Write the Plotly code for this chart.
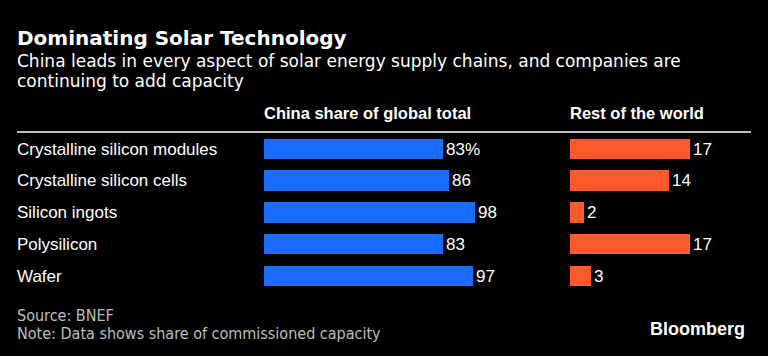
import plotly.graph_objects as go

categories = ["Crystalline silicon modules", "Crystalline silicon cells", "Silicon ingots", "Polysilicon", "Wafer"]
china_share = [83, 86, 98, 83, 97]
rest_share = [17, 14, 2, 17, 3]
china_labels = ["83%", "86", "98", "83", "97"]
rest_labels = ["17", "14", "2", "17", "3"]

W, H = 768, 356
BLUE = "#1a6cff"
ORANGE = "#ff5a2c"
SANS = "Liberation Sans, Arial, sans-serif"

fig = go.Figure()
ypos = list(range(len(categories)))

fig.add_trace(go.Bar(
    x=china_share, y=ypos, orientation="h", xaxis="x", yaxis="y",
    marker=dict(color=BLUE, line=dict(width=0)), width=0.64,
    text=china_labels, textposition="outside", cliponaxis=False,
    textfont=dict(family=SANS, size=17, color="white"),
    hoverinfo="skip",
))
fig.add_trace(go.Bar(
    x=rest_share, y=ypos, orientation="h", xaxis="x2", yaxis="y",
    marker=dict(color=ORANGE, line=dict(width=0)), width=0.64,
    text=rest_labels, textposition="outside", cliponaxis=False,
    textfont=dict(family=SANS, size=17, color="white"),
    hoverinfo="skip",
))

x1_start, x1_px_per = 264, 2.153
x2_start, x2_px_per = 570, 7.05

fig.update_layout(
    width=W, height=H,
    margin=dict(l=0, r=0, t=0, b=0),
    paper_bgcolor="black", plot_bgcolor="black",
    showlegend=False,
    xaxis=dict(domain=[x1_start / W, (x1_start + 100 * x1_px_per) / W], range=[0, 100],
               visible=False, fixedrange=True),
    xaxis2=dict(domain=[x2_start / W, (x2_start + 20 * x2_px_per) / W], range=[0, 20],
                visible=False, fixedrange=True, anchor="y"),
    yaxis=dict(domain=[1 - 292.0 / H, 1 - 133.2 / H], range=[4.5, -0.5],
               visible=False, fixedrange=True),
    bargap=0,
)

ann = []
for i, c in enumerate(categories):
    ann.append(dict(x=15 / W, y=i, xref="paper", yref="y", text=c, showarrow=False,
                    xanchor="left", yanchor="middle",
                    font=dict(family=SANS, size=17, color="white")))

def pt(x, y, text, size, color="white", family="DejaVu Sans", xanchor="left"):
    ann.append(dict(x=x / W, y=1 - y / H, xref="paper", yref="paper", text=text, showarrow=False,
                    xanchor=xanchor, yanchor="middle", font=dict(family=family, size=size, color=color)))

pt(15, 38, "<b>Dominating Solar Technology</b>", 20)
pt(15, 61, "China leads in every aspect of solar energy supply chains, and companies are", 17)
pt(15, 81, "continuing to add capacity", 17)
pt(262, 113, "<b>China share of global total</b>", 16.5, family=SANS)
pt(568, 113, "<b>Rest of the world</b>", 16.5, family=SANS)
pt(15, 315, "Source: BNEF", 16, color="#bdbdbd", family="DejaVu Sans Condensed, DejaVu Sans")
pt(15, 333, "Note: Data shows share of commissioned capacity", 16, color="#bdbdbd",
   family="DejaVu Sans Condensed, DejaVu Sans")
pt(747, 329, "<b>Bloomberg</b>", 18, family=SANS, xanchor="right")

fig.update_layout(annotations=ann)
fig.add_shape(type="line", xref="paper", yref="paper", x0=17 / W, x1=751 / W,
              y0=1 - 132 / H, y1=1 - 132 / H, line=dict(color="white", width=1.5))

fig.write_html("out.html", config={"displayModeBar": False},
               post_script="document.body.style.margin='0';document.body.style.background='black';")
